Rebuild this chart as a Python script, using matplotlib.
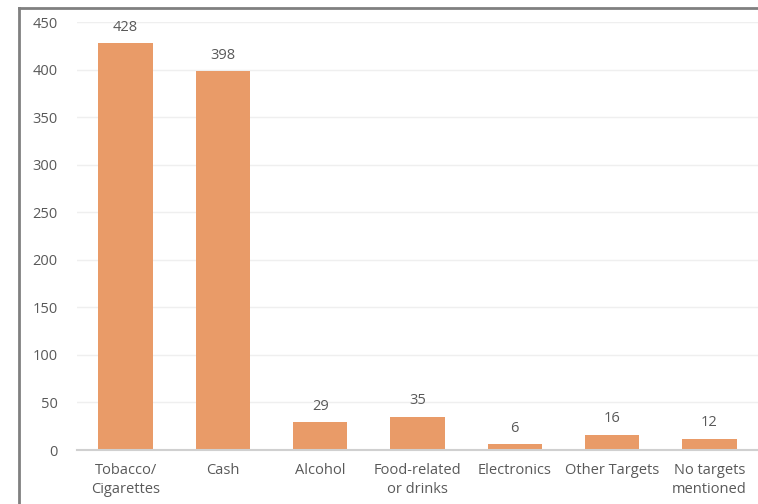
import matplotlib.pyplot as plt
from matplotlib.lines import Line2D

categories = ['Tobacco/\nCigarettes', 'Cash', 'Alcohol', 'Food-related\nor drinks',
              'Electronics', 'Other Targets', 'No targets\nmentioned']
counts = [428, 398, 29, 35, 6, 16, 12]
yticks = [0, 50, 100, 150, 200, 250, 300, 350, 400, 450]

BAR_COLOR = '#E99B68'
TEXT_COLOR = '#595959'

plt.rcParams['font.family'] = ['Open Sans', 'DejaVu Sans']

fig = plt.figure(figsize=(7.58, 5.04), dpi=100)
ax = fig.add_axes([77 / 758, 1 - 450 / 504, 681 / 758, 428 / 504])

x = list(range(len(categories)))
bars = ax.bar(x, counts, width=0.56, color=BAR_COLOR, zorder=3)

for b, v in zip(bars, counts):
    ax.annotate(str(v), (b.get_x() + b.get_width() / 2, v), xytext=(0, 6),
                textcoords='offset points', ha='center', va='bottom',
                fontsize=10.5, color=TEXT_COLOR)

ax.set_xlim(-0.5, len(categories) - 0.5)
ax.set_ylim(0, 450)
ax.set_yticks(yticks)
ax.set_xticks(x)
ax.set_xticklabels(categories, fontsize=10.5, color=TEXT_COLOR, linespacing=1.4)
ax.tick_params(axis='y', labelsize=10.5, labelcolor=TEXT_COLOR, length=0, pad=14)
ax.tick_params(axis='x', length=0, pad=9)

ax.grid(axis='y', color='#EFEFEF', linewidth=1, zorder=0)
for s in ['top', 'right', 'left']:
    ax.spines[s].set_visible(False)
ax.spines['bottom'].set_color('#D0D0D0')
ax.spines['bottom'].set_linewidth(1.5)
ax.spines['bottom'].set_zorder(4)

# outer frame (top and left edges visible)
fig.add_artist(Line2D([19 / 758, 19 / 758], [0, 1 - 8 / 504], transform=fig.transFigure,
                      color='#808080', linewidth=2))
fig.add_artist(Line2D([19 / 758, 1], [1 - 8 / 504, 1 - 8 / 504], transform=fig.transFigure,
                      color='#808080', linewidth=2))

fig.savefig('out.png', dpi=100)
